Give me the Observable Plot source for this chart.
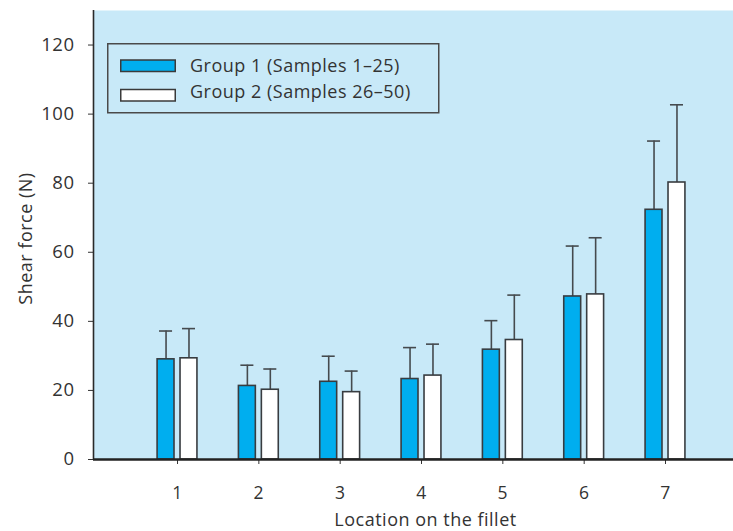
<!DOCTYPE html>
<html>
<head>
<meta charset="utf-8">
<script src="https://cdn.jsdelivr.net/npm/d3@7"></script>
<script src="https://cdn.jsdelivr.net/npm/@observablehq/plot@0.6"></script>
<style>
  html, body { margin: 0; padding: 0; background: #fff; }
  #wrap { position: relative; width: 733px; height: 531px; font-family: "Open Sans", Lato, sans-serif; color: #333; }
  #legend { position: absolute; left: 0; top: 0; pointer-events: none; }
</style>
</head>
<body>
<div id="wrap"></div>
<script>
const locations = [1, 2, 3, 4, 5, 6, 7];
const group1Mean = [29, 21.3, 22.5, 23.3, 31.8, 47.2, 72.3];
const group1Upper = [37.2, 27.3, 29.9, 32.4, 40.2, 61.8, 92.2];
const group2Mean = [29.3, 20.2, 19.5, 24.3, 34.6, 47.8, 80.2];
const group2Upper = [37.9, 26.2, 25.6, 33.4, 47.6, 64.2, 102.7];
const groupNames = ["Group 1 (Samples 1\u201325)", "Group 2 (Samples 26\u201350)"];
const groupColors = ["#00aeef", "#ffffff"];
const yTicks = [0, 20, 40, 60, 80, 100, 120];

const data = [];
locations.forEach((loc, i) => {
  data.push({loc, group: 0, mean: group1Mean[i], upper: group1Upper[i]});
  data.push({loc, group: 1, mean: group2Mean[i], upper: group2Upper[i]});
});

// offsets in x units (one unit = one location step)
const off = 0.141, half = 0.104, cap = 0.08;
const cx = d => d.loc + (d.group === 0 ? -off : off);
const font = "'Open Sans', Lato, sans-serif";

const chart = Plot.plot({
  width: 733,
  height: 531,
  marginLeft: 93,
  marginRight: 0,
  marginTop: 10,
  marginBottom: 72,
  style: { fontFamily: font, fontSize: "18px", color: "#333", background: "transparent", letterSpacing: "0.5px" },
  x: { type: "linear", domain: [-0.033, 7.836], axis: null },
  y: { domain: [0, 130], axis: null },
  marks: [
    Plot.frame({ fill: "#c8e9f8", stroke: "none" }),
    Plot.ruleX(data, { x: cx, y1: "mean", y2: "upper", stroke: "#454a4e", strokeWidth: 1.6 }),
    Plot.ruleY(data, { y: "upper", x1: d => cx(d) - cap, x2: d => cx(d) + cap, stroke: "#454a4e", strokeWidth: 1.6 }),
    Plot.rectY(data, { x1: d => cx(d) - half, x2: d => cx(d) + half, y1: 0, y2: "mean", fill: d => groupColors[d.group], stroke: "#383c40", strokeWidth: 1.6 }),
    Plot.axisY(yTicks, { tickSize: 5, tickPadding: 14, fontSize: 18.5, stroke: "#333", fill: "#333", label: null }),
    Plot.axisX(locations, { tickSize: 5, tickPadding: 22, fontSize: 17.5, stroke: "#333", fill: "#333", label: null }),
    Plot.ruleX([-0.033], { stroke: "#2a2a2a", strokeWidth: 1.6 }),
    Plot.ruleY([0], { stroke: "#222", strokeWidth: 2.6 }),
    Plot.text(["Location on the fillet"], { frameAnchor: "bottom", lineAnchor: "bottom", dx: 12, dy: 66, fontSize: 18, fill: "#333" }),
    Plot.text(["Shear force (N)"], { frameAnchor: "left", textAnchor: "middle", lineAnchor: "bottom", dx: -62, dy: 3.5, rotate: -90, fontSize: 18, fill: "#333" })
  ]
});

const wrap = document.getElementById("wrap");
wrap.appendChild(chart);

// legend overlay
const lg = d3.select(wrap).append("svg")
  .attr("id", "legend").attr("width", 733).attr("height", 531);
lg.append("rect").attr("x", 107.75).attr("y", 43.75).attr("width", 331).attr("height", 69)
  .attr("fill", "none").attr("stroke", "#4a4a4a").attr("stroke-width", 1.5);
groupNames.forEach((name, i) => {
  const top = i === 0 ? 60 : 89.5;
  lg.append("rect").attr("x", 120.75).attr("y", top).attr("width", 54.5).attr("height", 11.5)
    .attr("fill", groupColors[i]).attr("stroke", "#3a3a3a").attr("stroke-width", 1.5);
  lg.append("text").attr("x", 190).attr("y", i === 0 ? 71.5 : 98)
    .attr("font-family", font).attr("font-size", 18).attr("letter-spacing", "0.5px")
    .attr("fill", "#333").text(name);
});
</script>
</body>
</html>
